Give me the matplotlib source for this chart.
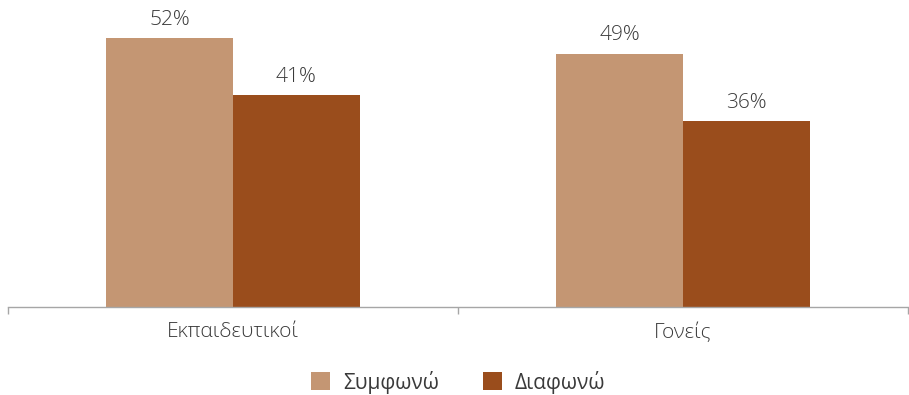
import matplotlib.pyplot as plt
import numpy as np

# survey answers per group
groups = ["Εκπαιδευτικοί", "Γονείς"]
agree = [52, 49]
disagree = [41, 36]
series_names = ["Συμφωνώ", "Διαφωνώ"]

c_agree = "#C49673"
c_disagree = "#9A4D1C"
txt = "#3A3A3A"

plt.rcParams['font.family'] = ['Open Sans', 'DejaVu Sans']

fig = plt.figure(figsize=(9.09, 3.95), dpi=100)
ax = fig.add_axes([8 / 909, 88 / 395, 900 / 909, 307 / 395])

x = np.arange(len(groups))
w = 0.282
b1 = ax.bar(x - w / 2, agree, w, color=c_agree, label=series_names[0])
b2 = ax.bar(x + w / 2, disagree, w, color=c_disagree, label=series_names[1])

for bars, vals in ((b1, agree), (b2, disagree)):
    for r, v in zip(bars, vals):
        ax.annotate(f"{v}%", (r.get_x() + r.get_width() / 2, v),
                    xytext=(0, 6), textcoords="offset points",
                    ha="center", va="bottom", fontsize=15,
                    fontweight="light", color=txt)

ax.set_xlim(-0.5, len(groups) - 0.5)
ax.set_ylim(0, 59.4)

for s in ("top", "right", "left"):
    ax.spines[s].set_visible(False)
ax.spines["bottom"].set_color("#A6A6A6")
ax.spines["bottom"].set_linewidth(1)
ax.set_yticks([])

ax.set_xticks(x)
ax.set_xticklabels(groups, fontsize=15, fontweight="light", color=txt)
ax.tick_params(axis="x", which="major", length=0, pad=11)
ax.set_xticks(np.arange(len(groups) + 1) - 0.5, minor=True)
ax.tick_params(axis="x", which="minor", length=5, color="#A6A6A6", width=1)

fig.legend(handles=[b1, b2], loc="center", bbox_to_anchor=(458 / 909, 1 - 382 / 395),
           ncol=2, frameon=False, fontsize=15, handlelength=0.95, handleheight=0.95,
           handletextpad=0.6, columnspacing=2.1, labelcolor=txt)

fig.savefig("out.png", dpi=100)
